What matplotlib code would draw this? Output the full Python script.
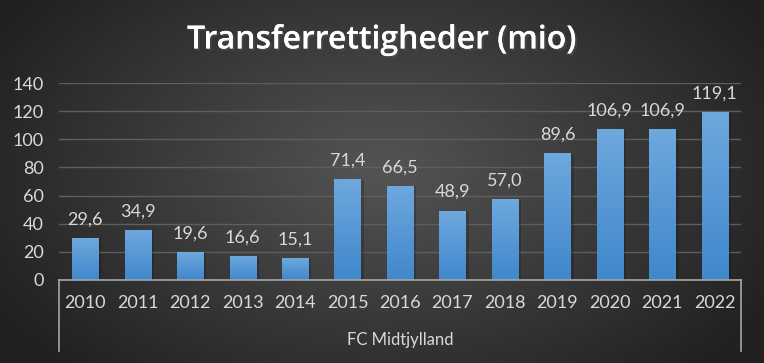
import numpy as np
import matplotlib
matplotlib.use('Agg')
import matplotlib.pyplot as plt
import matplotlib.patheffects as pe

years = ['2010', '2011', '2012', '2013', '2014', '2015', '2016',
         '2017', '2018', '2019', '2020', '2021', '2022']
values = [29.6, 34.9, 19.6, 16.6, 15.1, 71.4, 66.5, 48.9, 57.0, 89.6, 106.9, 106.9, 119.1]
group_label = 'FC Midtjylland'
title = 'Transferrettigheder (mio)'

plt.rcParams['font.family'] = ['Lato', 'DejaVu Sans']
txt = '#d9d9d9'

fig = plt.figure(figsize=(7.64, 3.63), dpi=100)

# radial background gradient
bg = fig.add_axes([0, 0, 1, 1], zorder=-10)
yy, xx = np.mgrid[0:363, 0:764]
r = np.sqrt(((xx - 382) / 420.0) ** 2 + ((yy - 170) / 260.0) ** 2)
shade = np.clip(0.33 - 0.19 * r, 0.13, 0.33)
bg.imshow(np.dstack([shade] * 3), aspect='auto', extent=[0, 1, 0, 1])
bg.axis('off')

ax = fig.add_axes([59 / 764, 83 / 363, (741 - 59) / 764, 197 / 363])
ax.patch.set_alpha(0)
x = np.arange(len(years))
bars = ax.bar(x, values, width=0.5, color='#5b9bd5', zorder=3)

# vertical gradient on bars
grad = np.linspace(0, 1, 100).reshape(-1, 1)
top_c = np.array([0.43, 0.66, 0.87])
bot_c = np.array([0.25, 0.53, 0.80])
img = top_c * (1 - grad[..., None]) + bot_c * grad[..., None]
img = img.reshape(100, 1, 3)
for b in bars:
    x0, w, h = b.get_x(), b.get_width(), b.get_height()
    # soft shadow
    ax.bar(x0 + w / 2 + 0.03, h, width=w + 0.06, color='black', alpha=0.18, zorder=2)
    ax.imshow(img, extent=[x0, x0 + w, 0, h], aspect='auto', zorder=4)

for xi, v in zip(x, values):
    ax.annotate(f'{v:.1f}'.replace('.', ','), (xi, v), xytext=(0, 8),
                textcoords='offset points', ha='center', va='bottom',
                color=txt, fontsize=13)

ax.set_xlim(-0.5, len(years) - 0.5)
ax.set_ylim(0, 140)
ax.set_yticks(range(0, 141, 20))
ax.set_xticks(x)
ax.set_xticklabels(years)
ax.tick_params(axis='both', length=0, labelsize=13, colors=txt)
ax.tick_params(axis='y', pad=11)
ax.tick_params(axis='x', pad=11)
ax.grid(axis='y', color='#5e5e5e', linewidth=1, zorder=0)
for s in ['top', 'right', 'left']:
    ax.spines[s].set_visible(False)
ax.spines['bottom'].set_color('#a6a6a6')
ax.spines['bottom'].set_linewidth(1.2)
ax.spines['bottom'].set_zorder(5)

# category group box
for xe in (-0.5, len(years) - 0.5):
    ax.plot([xe, xe], [0, -0.36], transform=ax.get_xaxis_transform(),
            color='#a6a6a6', linewidth=1.2, clip_on=False)
ax.text(0.5, -0.305, group_label, transform=ax.transAxes, ha='center',
        va='center', color=txt, fontsize=12)

fig.text(0.5, 0.89, title, ha='center', va='center', color='white',
         fontsize=23, fontweight='semibold', family=['Open Sans', 'DejaVu Sans'],
         path_effects=[pe.withSimplePatchShadow(offset=(1.5, -1.5), alpha=0.6),
                       pe.Normal()])

fig.savefig('out.png', dpi=100)
